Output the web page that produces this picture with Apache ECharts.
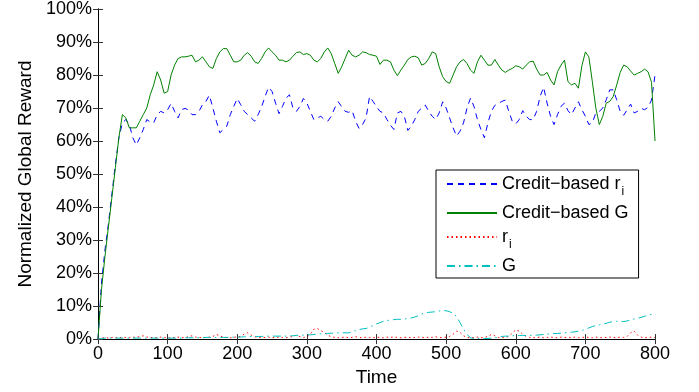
<!DOCTYPE html>
<html>
<head>
<meta charset="utf-8">
<script src="https://cdn.jsdelivr.net/npm/echarts@6/dist/echarts.min.js"></script>
<style>html,body{margin:0;padding:0;background:#fff}#c{width:699px;height:392px}</style>
</head>
<body>
<div id="c"></div>
<script>
// ---- data ----
const times = Array.from({length: 161}, (_, i) => i * 5); // 0..800 step 5
const xTicks = [0, 100, 200, 300, 400, 500, 600, 700, 800];
const yTicks = [0, 10, 20, 30, 40, 50, 60, 70, 80, 90, 100];
const seriesNames = ['Credit−based ri', 'Credit−based G', 'ri', 'G'];

const creditRi = [
  0,17,27,35,44,53,61,65.5,66.5,65,61,58.8,61,63.5,66.5,65.8,65.5,68,69,68.5,69.5,
  71.4,69,67,69.5,69.9,69.4,68,68,69,71,72,73.9,70,66,62.5,63.5,64.5,68,70.5,72.9,
  71,69,68,67,66,68,70.4,73.5,76.3,75,71.5,68.3,70.5,73,74,70,69,70.5,72.9,71.5,
  69,66.5,67,67.5,66.5,66,67.5,70,71.9,70.4,69,68.7,69.2,66,63.8,65,67,73.5,72,70.4,
  69,68.5,66.5,64.8,63.5,68.5,69,67.5,63.2,64.5,66.5,69,70,70.9,69,67.5,66.5,68.5,71.9,70,
  67,64,61.5,63,65.5,70,73,70.5,66.5,63.5,61,65.5,69,70.8,71.4,72,72.4,69,66,65.2,
  66.5,69.2,67.5,66.5,66.5,69,73.5,76.3,71.5,67.5,65,68,70.5,71.5,69.2,68,70,71.9,69.5,67.5,
  65,65.5,68.5,69,70,72.5,75.5,75.5,72.5,69,67.8,69.5,71.2,68.5,69,69.9,69.5,70.2,72.4,80
];
const creditG = [
  0,15,25,34,43,52,61,68,67,64,64,64,66,68,70,74,77,81,78.5,74.5,75,
  80,83,85,85.5,85.5,85.7,86,84,84.5,85.5,84,82.5,82,85,87,88,88,86,84,84,
  84.5,86,86.8,85.7,84,83.5,85,87,88.2,87,86,84.5,84.5,84,84.5,85.7,86.8,87,86.2,86.5,
  86,84.5,84,85,87,88.2,86.5,83.5,80.5,82.5,85,87.5,86,85.5,86,87,86.8,86.2,86,85.7,
  83.2,84.5,84.5,84,81.5,79.8,81.5,83,84.7,85.5,85.7,85.2,83,83.5,85,87,86.5,82.5,79.5,78,
  77.5,80,82.5,84,84.7,83.5,81.5,80.5,84,86,84.5,83,83,84.7,83,81.5,80.8,81.5,82,82.8,
  82.5,81.8,83,84,84.2,81.8,80,80,80.8,78.5,77,81,83,84.5,78,77,77.5,76,82.8,87,
  85.5,78,70,65,67.5,71.5,72,73.5,77,80.8,83,82.5,81.2,80,80.5,81,81.8,81,77.8,60
];
const plainRi = [
  0,0.3,0.5,0.3,0.5,0.4,0.6,0.3,0.5,0.4,0.6,0.5,0.8,1.0,0.6,0.5,0.4,0.5,0.6,0.4,0.5,
  0.3,0.5,0.6,0.4,0.5,0.7,1.0,0.6,0.5,0.4,0.5,0.6,0.8,1.4,1.0,0.6,0.5,0.4,0.5,0.7,
  0.8,1.5,1.9,1.2,0.7,0.5,0.4,0.5,0.6,0.4,0.5,0.6,0.5,0.4,0.6,0.8,1.2,0.7,0.5,0.6,
  1.5,3.0,3.2,2.6,2.0,1.2,0.7,0.5,0.4,0.5,0.6,0.4,0.5,0.7,0.5,0.4,0.6,0.5,0.4,0.6,
  0.5,0.4,0.6,0.5,0.7,0.5,0.4,0.5,0.6,0.4,0.5,0.6,0.5,0.4,0.6,0.5,0.7,0.5,0.4,0.6,
  0.8,1.5,2.4,2.0,1.0,0.5,0.4,0.5,0.6,0.4,0.5,0.8,1.4,1.0,0.5,0.4,0.5,0.8,1.8,2.8,
  2.4,1.5,0.8,0.5,0.4,0.5,0.6,0.4,0.5,0.6,0.5,0.4,0.6,0.5,0.4,0.5,0.6,0.4,0.5,0.6,
  0.5,0.4,0.6,0.5,0.4,0.5,0.6,0.5,0.4,0.6,0.5,0.8,1.9,2.4,1.2,0.6,0.4,0.5,0.6,0.5
];
const plainG = [
  0,0.2,0.3,0.3,0.3,0.3,0.3,0.3,0.3,0.3,0.3,0.3,0.3,0.3,0.3,0.3,0.3,0.3,0.3,0.3,0.3,
  0.3,0.3,0.3,0.3,0.4,0.4,0.4,0.4,0.4,0.4,0.5,0.5,0.5,0.5,0.5,0.5,0.5,0.6,0.6,0.6,
  0.6,0.7,0.7,0.8,0.8,0.8,0.8,0.9,0.9,0.9,0.9,0.9,0.9,0.9,1.0,1.0,1.1,1.2,1.2,1.3,
  1.3,1.4,1.5,1.6,1.6,1.7,1.8,1.8,1.9,1.9,1.9,1.9,2.2,2.6,2.9,3.1,3.2,3.6,4.1,4.6,
  5.0,5.4,5.6,5.8,5.9,6.0,6.0,6.1,6.2,6.4,6.7,7.1,7.6,8.0,8.1,8.2,8.3,8.5,8.6,8.6,
  8.3,7.8,6.8,5.0,3.0,1.4,0.4,0.2,0.2,0.2,0.2,0.2,0.3,0.4,0.6,0.8,0.9,0.9,1.0,1.1,
  1.1,1.1,1.1,1.1,1.2,1.2,1.3,1.4,1.5,1.6,1.7,1.7,1.8,1.9,2.0,2.1,2.2,2.4,2.6,3.0,
  3.4,3.8,4.1,4.3,4.5,4.8,5.1,5.3,5.4,5.4,5.3,5.5,5.8,6.1,6.3,6.6,6.9,7.2,7.5,7.8
];

// ---- chart ----
const FONT = 'Liberation Sans, Arial, Helvetica, sans-serif';
const pair = vals => times.map((t, i) => [t, vals[i]]);
const chart = echarts.init(document.getElementById('c'), null, {renderer: 'canvas'});

const boxAxis = {
  axisLine: {show: true, lineStyle: {color: '#000', width: 1}},
  axisTick: {show: true, inside: true, length: 5, lineStyle: {color: '#333'}},
  splitLine: {show: false}
};

chart.setOption({
  animation: false,
  backgroundColor: '#fff',
  grid: {left: 98, right: 44, top: 5, bottom: 49, containLabel: false},
  xAxis: [
    Object.assign({type: 'value', position: 'bottom', min: xTicks[0], max: xTicks[xTicks.length - 1], interval: 100,
      name: 'Time', nameLocation: 'middle', nameGap: 26,
      nameTextStyle: {color: '#000', fontSize: 19, fontFamily: FONT},
      axisLabel: {color: '#000', fontSize: 18, fontFamily: FONT, margin: 6}}, boxAxis),
    Object.assign({type: 'value', position: 'top', min: xTicks[0], max: xTicks[xTicks.length - 1], interval: 100,
      axisLabel: {show: false}}, boxAxis)
  ],
  yAxis: [
    Object.assign({type: 'value', position: 'left', min: yTicks[0], max: yTicks[yTicks.length - 1], interval: 10,
      name: 'Normalized Global Reward', nameLocation: 'middle', nameGap: 63,
      nameTextStyle: {color: '#000', fontSize: 19, fontFamily: FONT},
      axisLabel: {color: '#000', fontSize: 18, fontFamily: FONT, margin: 6, formatter: '{value}%'}}, boxAxis),
    Object.assign({type: 'value', position: 'right', min: yTicks[0], max: yTicks[yTicks.length - 1], interval: 10,
      axisLabel: {show: false}}, boxAxis)
  ],
  legend: {
    orient: 'vertical', left: 436, top: 170,
    itemWidth: 50, itemHeight: 12, itemGap: 6,
    padding: [5, 10, 3, 10],
    borderColor: '#000', borderWidth: 1, backgroundColor: '#fff',
    data: seriesNames,
    itemStyle: {opacity: 0},
    formatter: function (name) {
      if (name === 'Credit−based ri') return '{m|Credit−based r}{s|i}';
      if (name === 'ri') return '{m|r}{s|i}';
      return '{m|' + name + '}';
    },
    textStyle: {
      color: '#000', fontFamily: FONT, fontSize: 18,
      rich: {
        m: {fontSize: 18, fontFamily: FONT, color: '#000', lineHeight: 22},
        s: {fontSize: 12, fontFamily: FONT, color: '#000', lineHeight: 12, verticalAlign: 'bottom', padding: [0, 0, -3, 1]}
      }
    }
  },
  series: [
    {name: seriesNames[0], type: 'line', data: pair(creditRi), symbol: 'none',
      lineStyle: {color: '#0000ff', width: 1, type: [6, 5]}, itemStyle: {color: '#0000ff'}},
    {name: seriesNames[1], type: 'line', data: pair(creditG), symbol: 'none',
      lineStyle: {color: '#008000', width: 1, type: 'solid'}, itemStyle: {color: '#008000'}},
    {name: seriesNames[2], type: 'line', data: pair(plainRi), symbol: 'none',
      lineStyle: {color: '#ff0000', width: 1, type: [1.5, 3]}, itemStyle: {color: '#ff0000'}},
    {name: seriesNames[3], type: 'line', data: pair(plainG), symbol: 'none',
      lineStyle: {color: '#00bfbf', width: 1, type: [8, 4, 1.5, 4]}, itemStyle: {color: '#00bfbf'}}
  ]
});
</script>
</body>
</html>
